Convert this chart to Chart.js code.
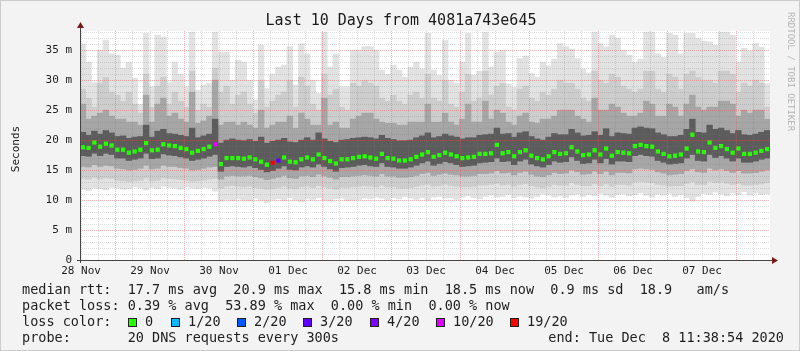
<!DOCTYPE html>
<html>
<head>
<meta charset="utf-8">
<title>Last 10 Days from 4081a743e645</title>
<script src="https://cdn.jsdelivr.net/npm/chart.js@4.4.0/dist/chart.umd.min.js"></script>
<style>
  html, body { margin: 0; padding: 0; background: #f3f3f3; }
  #wrap { width: 800px; height: 351px; }
</style>
</head>
<body>
<div id="wrap"><canvas id="chart" width="800" height="351"></canvas></div>
<script>
// Window starts Sat Nov 28 11:38:54 2020, x axis is hours since then.
// Smoke is consolidated into 2 h bins (120 bins over 10 days).
const binStartHour = 1;
const binStepHours = 2;
const noonOffsetHours = 0.3517;   // 12:00:00 - 11:38:54

const dayLabels = ['28 Nov', '29 Nov', '30 Nov', '01 Dec', '02 Dec', '03 Dec', '04 Dec', '05 Dec', '06 Dec', '07 Dec'];

const lossThresholds = [0, 1, 2, 3, 4, 10, 19];
const lossColors = ['#26ff00', '#00b8ff', '#0059ff', '#5e00ff', '#7e00ff', '#dd00ff', '#ff0000'];
const lossLabels = ['0', '1/20', '2/20', '3/20', '4/20', '10/20', '19/20'];

// median rtt per bin (ms)
const medianRtt = [
  18.8, 18.7, 19.6, 18.9, 19.4, 19.1, 18.4, 18.4, 17.9, 18.1,
  18.4, 19.5, 18.3, 18.4, 19.3, 19.1, 19.0, 18.7, 18.5, 17.9,
  18.2, 18.5, 18.9, 19.3, 16.0, 17.0, 17.0, 17.0, 16.9, 17.1,
  16.8, 16.4, 15.9, 16.2, 16.6, 17.1, 16.4, 16.3, 16.8, 17.1,
  16.8, 17.6, 17.0, 16.5, 16.1, 16.8, 16.8, 17.0, 17.2, 17.3,
  17.1, 16.9, 17.7, 17.0, 16.9, 16.6, 16.6, 16.8, 17.2, 17.6,
  18.0, 17.2, 17.5, 17.9, 17.6, 17.3, 17.0, 17.1, 17.2, 17.7,
  17.7, 17.8, 19.2, 17.8, 18.0, 17.3, 18.0, 18.3, 17.4, 17.0,
  16.8, 17.3, 18.0, 17.7, 17.8, 18.8, 18.1, 17.5, 17.6, 18.3,
  17.6, 18.6, 17.4, 18.0, 17.9, 17.8, 19.0, 19.2, 19.0, 18.9,
  18.1, 17.7, 17.3, 17.4, 17.6, 18.6, 20.9, 18.1, 18.0, 19.6,
  18.7, 19.0, 18.5, 17.9, 18.6, 17.7, 17.7, 17.9, 18.2, 18.5
];

// lost pings (of 20) per bin
const lossCount = [
  0, 0, 0, 0, 0, 0, 0, 0, 0, 0,
  0, 0, 0, 0, 0, 0, 0, 0, 0, 0,
  0, 0, 0, 10, 0, 0, 0, 0, 0, 0,
  0, 0, 0, 19, 3, 0, 0, 0, 0, 0,
  0, 0, 0, 0, 0, 0, 0, 0, 0, 0,
  0, 0, 0, 0, 0, 0, 0, 0, 0, 0,
  0, 0, 0, 0, 0, 0, 0, 0, 0, 0,
  0, 0, 0, 0, 0, 0, 0, 0, 0, 0,
  0, 0, 0, 0, 0, 0, 0, 0, 0, 0,
  0, 0, 0, 0, 0, 0, 0, 0, 0, 0,
  0, 0, 0, 0, 0, 0, 0, 0, 0, 0,
  0, 0, 0, 0, 0, 0, 0, 0, 0, 0
];

// smoke: outer (max) to inner band tops
const smokeHi0 = [
  36.0, 33.0, 29.6, 35.0, 36.7, 34.4, 34.2, 32.0, 33.0, 30.3,
  26.0, 37.8, 28.9, 37.5, 37.2, 29.6, 33.0, 31.0, 28.9, 38.0,
  28.3, 29.2, 29.5, 38.0, 34.7, 34.7, 30.0, 33.3, 33.0, 30.0,
  26.7, 35.8, 28.6, 31.0, 32.2, 32.5, 35.6, 29.2, 36.1, 34.4,
  30.0, 27.8, 38.0, 32.2, 34.4, 28.9, 28.9, 35.0, 35.0, 35.6,
  35.6, 35.0, 31.7, 31.0, 32.5, 31.7, 30.5, 32.2, 33.0, 31.9,
  37.8, 31.7, 30.8, 36.7, 30.0, 29.5, 33.0, 37.8, 30.8, 31.5,
  38.0, 32.2, 34.7, 35.0, 29.4, 28.8, 33.6, 34.0, 31.1, 30.5,
  33.0, 32.4, 33.5, 36.1, 35.6, 35.2, 33.6, 31.9, 31.2, 38.0,
  36.1, 35.5, 37.5, 37.0, 35.0, 34.2, 33.0, 33.5, 38.0, 38.0,
  34.4, 33.8, 37.8, 37.5, 34.4, 37.8, 37.8, 37.0, 36.5, 36.4,
  35.8, 38.0, 38.0, 37.5, 33.0, 35.3, 34.8, 36.1, 35.5, 29.4
];
const smokeHi1 = [
  28.5, 27.0, 25.5, 29.5, 30.5, 28.0, 27.5, 26.5, 28.0, 26.0,
  24.5, 31.0, 25.5, 29.0, 30.5, 26.0, 28.0, 26.5, 25.5, 31.5,
  25.0, 26.0, 25.5, 32.0, 28.0, 29.0, 26.0, 27.5, 28.0, 26.0,
  24.5, 30.0, 25.5, 26.5, 27.5, 28.0, 30.0, 25.5, 30.5, 29.0,
  26.0, 25.0, 31.0, 27.5, 28.5, 25.5, 25.0, 29.5, 29.0, 30.0,
  29.5, 29.0, 27.0, 26.5, 27.5, 26.5, 26.0, 27.5, 28.0, 27.0,
  31.0, 27.0, 26.5, 30.0, 26.0, 25.5, 28.0, 31.0, 26.5, 27.0,
  31.5, 27.5, 29.0, 29.5, 25.5, 25.0, 28.5, 29.0, 27.0, 26.5,
  28.0, 27.5, 28.5, 30.0, 29.5, 29.5, 28.5, 27.0, 26.5, 31.5,
  30.0, 29.5, 31.0, 30.5, 29.0, 28.5, 28.0, 28.5, 31.5, 31.5,
  28.5, 28.0, 31.0, 30.5, 28.5, 31.0, 31.5, 30.5, 30.0, 30.0,
  29.5, 31.5, 31.5, 31.0, 28.0, 29.5, 29.0, 30.0, 29.5, 25.5
];
const smokeHi2 = [
  26.0, 23.5, 24.0, 24.5, 25.0, 24.0, 23.5, 23.5, 23.0, 23.0,
  22.5, 27.5, 23.0, 26.0, 27.0, 24.0, 24.5, 23.5, 23.0, 28.0,
  22.8, 23.2, 24.0, 30.0, 22.5, 23.0, 23.0, 22.5, 23.0, 22.5,
  22.0, 25.0, 22.0, 22.5, 23.0, 23.0, 24.0, 22.0, 24.5, 23.5,
  22.5, 22.5, 27.0, 22.5, 23.0, 22.0, 22.0, 23.5, 24.0, 24.5,
  24.5, 23.5, 23.0, 22.8, 22.8, 22.5, 22.5, 23.0, 23.0, 23.0,
  26.0, 23.0, 23.0, 24.5, 23.0, 22.5, 23.5, 26.0, 23.0, 23.0,
  26.5, 23.5, 25.0, 24.5, 23.0, 22.5, 24.0, 24.5, 23.0, 22.8,
  23.5, 23.5, 24.0, 25.0, 25.0, 25.0, 24.0, 23.5, 23.0, 27.0,
  25.0, 25.0, 26.0, 25.5, 24.5, 24.0, 24.0, 24.5, 26.5, 26.0,
  24.0, 24.0, 26.0, 25.5, 24.0, 26.0, 27.5, 25.5, 25.0, 25.5,
  25.5, 26.5, 26.5, 26.0, 24.0, 25.0, 24.5, 25.0, 25.0, 23.5
];
const smokeHi3 = [
  21.3, 20.8, 21.5, 21.0, 21.6, 21.2, 20.6, 20.7, 20.3, 20.5,
  20.6, 22.5, 20.5, 21.5, 21.8, 21.1, 21.0, 20.8, 20.6, 22.0,
  20.4, 20.7, 21.0, 23.5, 19.5, 20.0, 20.2, 20.0, 19.9, 20.1,
  19.8, 20.5, 19.5, 19.8, 20.0, 20.3, 19.7, 19.6, 20.0, 20.4,
  20.0, 21.2, 20.2, 19.8, 19.6, 20.0, 20.1, 20.3, 20.4, 20.5,
  20.4, 20.2, 20.8, 20.3, 20.1, 19.9, 19.9, 20.0, 20.4, 20.7,
  21.2, 20.4, 20.6, 21.0, 20.7, 20.5, 20.2, 20.4, 20.4, 20.8,
  20.9, 21.0, 22.0, 21.0, 21.1, 20.5, 21.2, 21.4, 20.6, 20.2,
  20.0, 20.5, 21.1, 20.9, 20.9, 21.8, 21.2, 20.7, 20.8, 21.4,
  20.8, 21.9, 20.6, 21.2, 21.1, 21.0, 22.0, 22.2, 22.0, 21.9,
  21.2, 20.9, 20.6, 20.6, 20.8, 21.8, 23.5, 21.3, 21.2, 22.5,
  21.8, 22.0, 21.6, 21.1, 21.6, 20.9, 20.8, 21.0, 21.3, 21.6
];
// smoke: inner to outer (min) band bottoms
const smokeLo3 = [
  17.4, 17.3, 17.8, 17.4, 17.8, 17.6, 17.0, 17.0, 16.6, 16.8,
  17.0, 17.8, 16.9, 17.0, 17.7, 17.5, 17.4, 17.2, 17.0, 16.6,
  16.8, 17.0, 17.3, 17.6, 14.8, 15.6, 15.7, 15.6, 15.5, 15.7,
  15.4, 15.1, 14.7, 14.9, 15.3, 15.7, 15.1, 15.0, 15.5, 15.7,
  15.5, 16.0, 15.6, 15.2, 14.8, 15.4, 15.5, 15.6, 15.8, 15.9,
  15.7, 15.6, 16.2, 15.6, 15.5, 15.3, 15.3, 15.5, 15.8, 16.2,
  16.5, 15.8, 16.1, 16.4, 16.2, 15.9, 15.6, 15.7, 15.8, 16.2,
  16.3, 16.4, 17.0, 16.4, 16.5, 15.9, 16.5, 16.8, 16.0, 15.7,
  15.5, 15.9, 16.5, 16.3, 16.4, 17.2, 16.6, 16.1, 16.2, 16.8,
  16.2, 16.9, 16.0, 16.5, 16.5, 16.4, 17.4, 17.6, 17.4, 17.3,
  16.6, 16.3, 16.0, 16.1, 16.2, 17.0, 17.6, 16.6, 16.5, 17.6,
  17.1, 17.4, 17.0, 16.5, 17.0, 16.3, 16.3, 16.5, 16.8, 17.0
];
const smokeLo2 = [
  15.6, 15.5, 15.9, 15.6, 15.8, 15.7, 15.3, 15.2, 15.0, 15.1,
  15.3, 15.8, 15.2, 15.3, 15.8, 15.6, 15.6, 15.4, 15.3, 15.0,
  15.1, 15.3, 15.5, 15.6, 13.5, 14.0, 14.1, 14.0, 14.0, 14.1,
  13.9, 13.7, 13.4, 13.6, 13.8, 14.1, 13.7, 13.6, 14.0, 14.1,
  13.9, 14.3, 14.0, 13.8, 13.5, 13.9, 13.9, 14.0, 14.1, 14.2,
  14.1, 14.0, 14.4, 14.0, 14.0, 13.8, 13.8, 13.9, 14.1, 14.4,
  14.6, 14.1, 14.3, 14.5, 14.3, 14.2, 14.0, 14.0, 14.1, 14.4,
  14.4, 14.5, 14.9, 14.5, 14.6, 14.2, 14.6, 14.8, 14.3, 14.0,
  13.9, 14.2, 14.6, 14.4, 14.5, 15.0, 14.7, 14.3, 14.4, 14.8,
  14.4, 14.8, 14.2, 14.6, 14.6, 14.5, 15.2, 15.3, 15.2, 15.1,
  14.7, 14.5, 14.2, 14.3, 14.4, 14.9, 15.2, 14.7, 14.6, 15.3,
  15.0, 15.2, 14.9, 14.6, 14.9, 14.5, 14.5, 14.6, 14.8, 15.0
];
const smokeLo1 = [
  13.6, 13.5, 13.8, 13.5, 13.7, 13.6, 13.3, 13.2, 13.1, 13.2,
  13.3, 13.7, 13.2, 13.3, 13.7, 13.6, 13.5, 13.4, 13.3, 13.1,
  13.2, 13.3, 13.5, 13.6, 12.0, 12.3, 12.4, 12.3, 12.2, 12.3,
  12.1, 12.0, 11.8, 11.9, 12.1, 12.3, 12.0, 11.9, 12.2, 12.3,
  12.1, 12.4, 12.2, 12.0, 11.8, 12.1, 12.1, 12.2, 12.3, 12.4,
  12.3, 12.2, 12.5, 12.2, 12.2, 12.0, 12.0, 12.1, 12.3, 12.5,
  12.6, 12.3, 12.4, 12.6, 12.4, 12.3, 12.2, 12.2, 12.3, 12.5,
  12.5, 12.6, 12.8, 12.5, 12.6, 12.3, 12.6, 12.7, 12.4, 12.2,
  12.1, 12.3, 12.6, 12.5, 12.5, 12.9, 12.6, 12.4, 12.4, 12.7,
  12.4, 12.7, 12.3, 12.6, 12.6, 12.5, 13.0, 13.1, 13.0, 12.9,
  12.6, 12.5, 12.3, 12.4, 12.4, 12.8, 13.0, 12.6, 12.6, 13.1,
  12.9, 13.0, 12.8, 12.6, 12.8, 12.5, 12.5, 12.6, 12.7, 12.9
];
const smokeLo0 = [
  11.8, 11.6, 12.0, 11.9, 11.7, 12.1, 12.0, 11.8, 11.9, 12.2,
  12.0, 11.7, 12.1, 11.9, 12.3, 12.1, 12.0, 11.8, 12.2, 12.0,
  11.9, 12.1, 12.0, 11.5, 9.8, 10.1, 9.9, 10.2, 10.0, 9.8,
  10.3, 10.0, 9.6, 10.1, 10.2, 9.9, 10.4, 10.0, 9.7, 10.2,
  10.1, 10.4, 10.0, 9.8, 10.2, 10.3, 9.9, 10.0, 10.1, 10.4,
  10.2, 10.5, 10.3, 10.0, 10.4, 10.2, 10.6, 10.3, 10.1, 10.4,
  10.0, 10.5, 10.6, 10.3, 10.4, 10.1, 10.5, 10.7, 10.4, 10.2,
  10.6, 10.8, 10.5, 10.6, 10.9, 10.4, 10.7, 10.5, 10.3, 10.6,
  11.0, 10.8, 10.5, 10.7, 10.4, 10.8, 11.0, 10.6, 10.9, 10.7,
  11.1, 10.8, 10.5, 10.9, 11.0, 10.7, 10.9, 11.2, 10.8, 10.5,
  11.0, 10.8, 11.1, 10.6, 10.9, 10.4, 9.8, 10.6, 11.1, 10.9,
  11.3, 11.0, 10.7, 11.2, 10.9, 11.4, 10.8, 11.2, 10.9, 11.0
];

const legendRtt = 'median rtt:  17.7 ms avg  20.9 ms max  15.8 ms min  18.5 ms now  0.9 ms sd  18.9   am/s';
const legendLoss = 'packet loss: 0.39 % avg  53.89 % max  0.00 % min  0.00 % now';
const legendProbe = 'probe:       20 DNS requests every 300s';
const legendEnd = 'end: Tue Dec  8 11:38:54 2020';

const MONO = '"DejaVu Sans Mono", "Liberation Mono", monospace';
const majorGrid = 'rgba(255, 70, 70, 0.4)';
const minorGrid = 'rgba(120, 120, 120, 0.25)';

const binHours = medianRtt.map((_, i) => binStartHour + i * binStepHours);

function lossColor(n) {
    let c = lossColors[0];
    lossThresholds.forEach((t, i) => { if(n >= t) c = lossColors[i]; });
    return c;
}

function band(lo, hi) {
    return binHours.map((h, i) => ({ x: h, y: [lo[i], hi[i]] }));
}

function smokeLayer(lo, hi, color) {
    return {
        type: 'bar',
        data: band(lo, hi),
        backgroundColor: color,
        borderWidth: 0,
        grouped: false,
        barPercentage: 1,
        categoryPercentage: 1
    };
}

const rrdDecor = {
    id: 'rrdDecor',
    beforeDraw(chart) {
        const { ctx, chartArea: a } = chart;
        ctx.save();
        ctx.fillStyle = '#f3f3f3';
        ctx.fillRect(0, 0, chart.width, chart.height);
        ctx.strokeStyle = '#cccccc';
        ctx.lineWidth = 1;
        ctx.strokeRect(0.5, 0.5, chart.width - 1, chart.height - 1);
        ctx.fillStyle = '#ffffff';
        ctx.fillRect(a.left, a.top, a.right - a.left, a.bottom - a.top);
        ctx.restore();
    },
    afterDraw(chart) {
        const { ctx, chartArea: a } = chart;
        ctx.save();

        // axes with arrow heads
        ctx.strokeStyle = '#454545';
        ctx.lineWidth = 1;
        ctx.beginPath();
        ctx.moveTo(a.left + 0.5, a.bottom + 3);
        ctx.lineTo(a.left + 0.5, a.top - 4);
        ctx.moveTo(a.left - 3, a.bottom + 0.5);
        ctx.lineTo(a.right + 2, a.bottom + 0.5);
        ctx.stroke();
        ctx.fillStyle = '#7a1a1a';
        ctx.beginPath();
        ctx.moveTo(a.left + 0.5, a.top - 9);
        ctx.lineTo(a.left - 3, a.top - 3);
        ctx.lineTo(a.left + 4, a.top - 3);
        ctx.closePath();
        ctx.fill();
        ctx.beginPath();
        ctx.moveTo(a.right + 8, a.bottom + 0.5);
        ctx.lineTo(a.right + 2, a.bottom - 3);
        ctx.lineTo(a.right + 2, a.bottom + 4);
        ctx.closePath();
        ctx.fill();

        // title
        ctx.fillStyle = '#1a1a1a';
        ctx.font = '15px ' + MONO;
        ctx.textAlign = 'center';
        ctx.textBaseline = 'middle';
        ctx.fillText('Last 10 Days from 4081a743e645', 401, 21);

        // vertical axis title
        ctx.save();
        ctx.translate(16, 149);
        ctx.rotate(-Math.PI / 2);
        ctx.font = '11px ' + MONO;
        ctx.fillText('Seconds', 0, 0);
        ctx.restore();

        // watermark on the right edge
        ctx.save();
        ctx.translate(790, 12);
        ctx.rotate(Math.PI / 2);
        ctx.font = '9px ' + MONO;
        ctx.fillStyle = '#b5b5b5';
        ctx.textAlign = 'left';
        ctx.fillText('RRDTOOL / TOBI OETIKER', 0, 0);
        ctx.restore();

        // legend block
        ctx.font = '13.5px ' + MONO;
        ctx.textAlign = 'left';
        ctx.fillStyle = '#1e1e1e';
        ctx.fillText(legendRtt, 22, 290);
        ctx.fillText(legendLoss, 22, 306.5);
        ctx.fillText('loss color:', 22, 322.5);
        const boxX = [128, 171, 237, 303, 370, 436, 510];
        lossLabels.forEach((lab, i) => {
            ctx.fillStyle = lossColors[i];
            ctx.fillRect(boxX[i], 318, 9, 9);
            ctx.strokeStyle = '#202020';
            ctx.strokeRect(boxX[i] + 0.5, 318.5, 8, 8);
            ctx.fillStyle = '#1e1e1e';
            ctx.fillText(lab, boxX[i] + 17, 322.5);
        });
        ctx.fillText(legendProbe, 22, 338.5);
        ctx.textAlign = 'right';
        ctx.fillText(legendEnd, 784, 338.5);

        ctx.restore();
    }
};

const xTickHours = Array.from({ length: 40 }, (_, k) => noonOffsetHours + k * 6);
const yTickValues = Array.from({ length: 39 }, (_, v) => v);

const ctx = document.getElementById('chart').getContext('2d');
const chart = new Chart(ctx, {
    type: 'bar',
    data: {
        datasets: [
            {
                type: 'line',
                data: binHours.map((h, i) => ({ x: h, y: medianRtt[i] })),
                showLine: false,
                pointStyle: 'rect',
                pointRadius: 3,
                pointBorderWidth: 0,
                pointBackgroundColor: lossCount.map(lossColor)
            },
            smokeLayer(smokeLo3, smokeHi3, '#5c5c5c'),
            smokeLayer(smokeLo2, smokeHi2, '#a6a6a6'),
            smokeLayer(smokeLo1, smokeHi1, '#cdcdcd'),
            smokeLayer(smokeLo0, smokeHi0, '#e2e2e2')
        ]
    },
    options: {
        responsive: false,
        devicePixelRatio: 1,
        animation: false,
        events: [],
        layout: { padding: { left: 0, right: 30, top: 31, bottom: 0 } },
        plugins: {
            legend: { display: false },
            tooltip: { enabled: false }
        },
        scales: {
            x: {
                type: 'linear',
                min: 0,
                max: 240,
                offset: false,
                afterBuildTicks: scale => { scale.ticks = xTickHours.map(v => ({ value: v })); },
                afterFit: scale => { scale.height = 91; },
                grid: {
                    offset: false,
                    z: 1,
                    drawTicks: false,
                    color: c => (c.index % 4 === 2 ? majorGrid : minorGrid)
                },
                border: { display: false, dash: [1, 1] },
                ticks: {
                    autoSkip: false,
                    maxRotation: 0,
                    minRotation: 0,
                    padding: 5,
                    color: '#1e1e1e',
                    font: { family: MONO, size: 11 },
                    callback: (v, i) => (i % 4 === 0 ? dayLabels[i / 4] : '')
                }
            },
            y: {
                type: 'linear',
                min: 0,
                max: 38.2,
                afterBuildTicks: scale => { scale.ticks = yTickValues.map(v => ({ value: v })); },
                afterFit: scale => { scale.width = 80; },
                grid: {
                    z: 1,
                    drawTicks: false,
                    color: c => (c.tick && c.tick.value % 5 === 0 ? majorGrid : minorGrid)
                },
                border: { display: false, dash: [1, 1] },
                ticks: {
                    autoSkip: false,
                    padding: 8,
                    color: '#1e1e1e',
                    font: { family: MONO, size: 11 },
                    callback: v => (v % 5 === 0 ? (v === 0 ? '0' : v + ' m') : '')
                }
            }
        }
    },
    plugins: [rrdDecor]
});
</script>
</body>
</html>
